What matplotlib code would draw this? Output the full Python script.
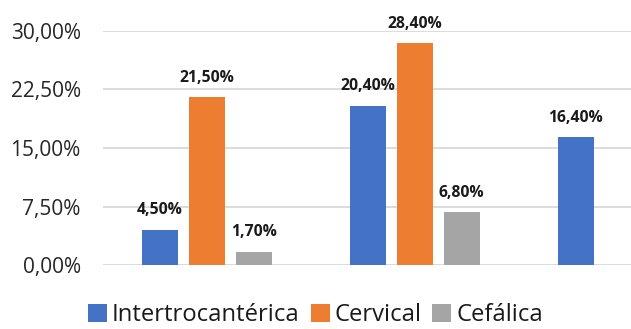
import numpy as np
import matplotlib
matplotlib.use('Agg')
import matplotlib.pyplot as plt
from matplotlib.ticker import FuncFormatter

plt.rcParams['font.family'] = ['Open Sans', 'DejaVu Sans']

# Fracture types per group (no category names on the axis)
groups = [0, 1, 2]
series = ['Intertrocantérica', 'Cervical', 'Cefálica']
intertrocanterica = [4.5, 20.4, 16.4]
cervical = [21.5, 28.4, np.nan]
cefalica = [1.7, 6.8, np.nan]
colors = ['#4472C4', '#ED7D31', '#A5A5A5']
yticks = [0, 7.5, 15, 22.5, 30]


def pct(v, pos=None):
    return f'{v:.2f}%'.replace('.', ',')


fig = plt.figure(figsize=(6.31, 3.29), dpi=100)
ax = fig.add_axes([0.163, 0.1945, 0.837, 0.7113])

x = np.array(groups, dtype=float)
width = 0.173
step = 0.226
handles = []
for i, (name, vals) in enumerate(zip(series, [intertrocanterica, cervical, cefalica])):
    vals = np.array(vals, dtype=float)
    ok = ~np.isnan(vals)
    bars = ax.bar(x[ok] + (i - 1) * step, vals[ok], width, color=colors[i],
                  label=name, zorder=3)
    handles.append(bars)
    for b, v in zip(bars, vals[ok]):
        ax.annotate(pct(v), (b.get_x() + b.get_width() / 2, v),
                    xytext=(0, 14), textcoords='offset points',
                    ha='center', va='center', fontsize=11.3,
                    fontweight='bold', color='#1a1a1a')

ax.set_ylim(0, 30)
ax.set_xlim(-0.5, 2.04)
ax.set_yticks(yticks)
ax.yaxis.set_major_formatter(FuncFormatter(pct))
ax.tick_params(axis='y', length=0, pad=16, labelsize=15, labelcolor='#262626')
ax.set_xticks([])
ax.grid(axis='y', color='#D9D9D9', linewidth=1.3, zorder=0)
for s in ax.spines.values():
    s.set_visible(False)

fig.legend(handles=handles, labels=series, loc='center', bbox_to_anchor=(0.5, 0.042),
           ncol=3, frameon=False, fontsize=17.2, handlelength=0.8,
           handleheight=0.8, handletextpad=0.2, columnspacing=0.45,
           labelcolor='#1a1a1a')

fig.savefig('out.png', dpi=100)
